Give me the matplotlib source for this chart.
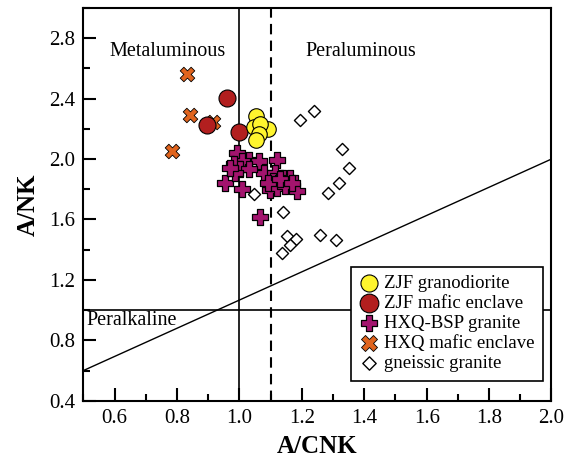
import matplotlib
matplotlib.use("Agg")
import matplotlib.pyplot as plt
from matplotlib.ticker import MultipleLocator
import numpy as np

plt.rcParams['font.family'] = ['Liberation Serif', 'DejaVu Serif']

# ---- data ----
zjf_gd_x = [1.054, 1.093, 1.047, 1.067, 1.064, 1.052]
zjf_gd_y = [2.283, 2.201, 2.214, 2.230, 2.163, 2.123]

zjf_me_x = [0.960, 0.896, 1.000]
zjf_me_y = [2.402, 2.223, 2.178]

hxq_bsp_x = [0.992, 1.029, 1.008, 0.981, 1.061, 1.120, 1.077, 1.115, 1.002, 1.029,
             0.954, 1.008, 1.109, 1.141, 1.163, 1.099, 1.120, 1.147, 1.184, 1.067,
             0.986, 0.970, 1.093, 1.131, 1.168]
hxq_bsp_y = [2.037, 1.997, 1.986, 1.964, 1.986, 1.993, 1.909, 1.909, 1.931, 1.931,
             1.843, 1.803, 1.853, 1.876, 1.876, 1.798, 1.809, 1.820, 1.787, 1.617,
             1.909, 1.942, 1.843, 1.865, 1.843]

hxq_me_x = [0.831, 0.840, 0.915, 0.785]
hxq_me_y = [2.561, 2.291, 2.245, 2.052]

gneiss_x = [1.193, 1.240, 1.328, 1.351, 1.319, 1.285, 1.045, 1.140, 1.152, 1.182,
            1.161, 1.137, 1.259, 1.308]
gneiss_y = [2.258, 2.320, 2.068, 1.940, 1.843, 1.776, 1.770, 1.650, 1.488, 1.471,
            1.433, 1.378, 1.495, 1.466]

# boundary lines
diag_x = [0.5, 2.0]
diag_y = [0.6, 2.0]

fig = plt.figure(figsize=(5.71, 4.66), dpi=100)
ax = fig.add_axes([0.1462, 0.1401, 0.8196, 0.8427])

ax.set_xlim(0.5, 2.0)
ax.set_ylim(0.4, 3.0)

# reference lines
ax.axvline(1.0, color='black', lw=1.2, zorder=1)
ax.axvline(1.1, color='black', lw=1.5, ls=(0, (5, 3)), zorder=1)
ax.axhline(1.0, color='black', lw=1.2, zorder=1)
ax.plot(diag_x, diag_y, color='black', lw=1.0, zorder=1)

# scatter
ax.scatter(hxq_me_x, hxq_me_y, marker='X', s=110, facecolor='#E0641E',
           edgecolor='black', linewidths=0.6, zorder=3, label='HXQ mafic enclave')
ax.scatter(zjf_me_x, zjf_me_y, marker='o', s=150, facecolor='#B21F1F',
           edgecolor='black', linewidths=0.8, zorder=4, label='ZJF mafic enclave')
ax.scatter(gneiss_x, gneiss_y, marker='D', s=38, facecolor='white',
           edgecolor='black', linewidths=1.0, zorder=3, label='gneissic granite')
ax.scatter(hxq_bsp_x, hxq_bsp_y, marker='P', s=120, facecolor='#A3146E',
           edgecolor='black', linewidths=0.9, zorder=5, label='HXQ-BSP granite')
ax.scatter(zjf_gd_x, zjf_gd_y, marker='o', s=125, facecolor='#FFF52E',
           edgecolor='black', linewidths=0.8, zorder=6, label='ZJF granodiorite')

# region labels
ax.text(0.77, 2.71, 'Metaluminous', fontsize=14.5, ha='center', va='center')
ax.text(1.39, 2.71, 'Peraluminous', fontsize=14.5, ha='center', va='center')
ax.text(0.51, 0.93, 'Peralkaline', fontsize=14.5, ha='left', va='center')

# ticks
ax.xaxis.set_minor_locator(MultipleLocator(0.1))
ax.yaxis.set_minor_locator(MultipleLocator(0.2))
ax.set_xticks(np.arange(0.6, 2.01, 0.2))
ax.set_xticklabels(['0.6', '0.8', '1.0', '1.2', '1.4', '1.6', '1.8', '2.0'])
ax.set_yticks(np.arange(0.4, 2.81, 0.4))
ax.set_yticklabels(['0.4', '0.8', '1.2', '1.6', '2.0', '2.4', '2.8'])
ax.tick_params(which='major', direction='in', length=9.5, width=1.5,
               labelsize=15, pad=6)
ax.tick_params(which='minor', direction='in', length=5, width=1.5)
ax.tick_params(top=False, right=False, which='both')
for sp in ax.spines.values():
    sp.set_linewidth(1.5)

ax.set_xlabel('A/CNK', fontsize=18, fontweight='bold', labelpad=5)
ax.set_ylabel('A/NK', fontsize=18, fontweight='bold', labelpad=7)

# legend
handles, labels = ax.get_legend_handles_labels()
order = ['ZJF granodiorite', 'ZJF mafic enclave', 'HXQ-BSP granite',
         'HXQ mafic enclave', 'gneissic granite']
hmap = dict(zip(labels, handles))
leg = ax.legend([hmap[k] for k in order], order, loc='upper left',
                bbox_to_anchor=(0.571, 0.341), borderaxespad=0,
                fontsize=13.5, frameon=True, fancybox=False, framealpha=1,
                edgecolor='black', handletextpad=0.25, handlelength=1.1,
                labelspacing=0.15, borderpad=0.45, scatterpoints=1,
                markerscale=1.1)
leg.get_frame().set_linewidth(1.2)
leg.set_zorder(10)

fig.savefig('out.png', dpi=100)
